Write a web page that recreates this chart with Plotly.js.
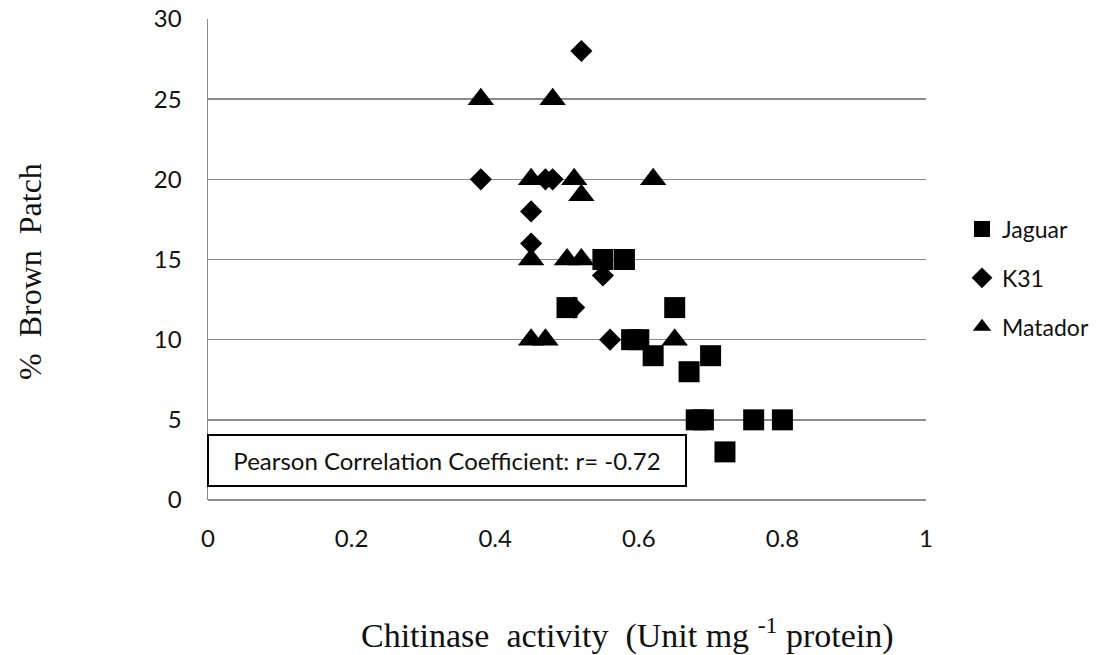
<!DOCTYPE html>
<html>
<head>
<meta charset="utf-8">
<script src="https://cdn.plot.ly/plotly-3.0.1.min.js"></script>
<style>
  html, body { margin: 0; padding: 0; background: #ffffff; }
  #chart { width: 1097px; height: 655px; }
</style>
</head>
<body>
<div id="chart"></div>
<script>
// Chitinase activity (x) against % brown patch (y) for three cultivars
const jaguarX = [0.50, 0.55, 0.58, 0.65, 0.59, 0.60, 0.62, 0.67, 0.70, 0.68, 0.69, 0.76, 0.80, 0.72];
const jaguarY = [12, 15, 15, 12, 10, 10, 9, 8, 9, 5, 5, 5, 5, 3];

const k31X = [0.52, 0.38, 0.47, 0.48, 0.45, 0.45, 0.55, 0.51, 0.56];
const k31Y = [28, 20, 20, 20, 18, 16, 14, 12, 10];

const matadorX = [0.38, 0.48, 0.45, 0.51, 0.62, 0.52, 0.45, 0.50, 0.52, 0.45, 0.47, 0.65];
const matadorY = [25, 25, 20, 20, 20, 19, 15, 15, 15, 10, 10, 10];

const xTicks = [0, 0.2, 0.4, 0.6, 0.8, 1];
const xTickText = ['0', '0.2', '0.4', '0.6', '0.8', '1'];
const yTicks = [0, 5, 10, 15, 20, 25, 30];

const correlationText = 'Pearson Correlation Coefficient: r= -0.72';
const xTitle = 'Chitinase&nbsp;&nbsp;activity&nbsp;&nbsp;(Unit mg <sup>-1</sup> protein)';
const yTitle = '%&nbsp;&nbsp;Brown&nbsp;&nbsp;Patch';

const sansFont = 'Lato, "Open Sans", sans-serif';
const serifFont = '"Liberation Serif", "DejaVu Serif", serif';

const traces = [
  {
    x: jaguarX, y: jaguarY, name: 'Jaguar', type: 'scatter', mode: 'markers',
    legendgroup: 'a',
    marker: { symbol: 'square', size: 21, color: '#000000' }
  },
  {
    x: k31X, y: k31Y, name: 'K31', type: 'scatter', mode: 'markers',
    legendgroup: 'b',
    marker: { symbol: 'diamond', size: 17, color: '#000000' }
  },
  {
    x: matadorX, y: matadorY, name: 'Matador', type: 'scatter', mode: 'markers',
    legendgroup: 'c',
    marker: { symbol: 'triangle-up', size: 23, color: '#000000' }
  }
];

const layout = {
  width: 1097,
  height: 655,
  paper_bgcolor: '#ffffff',
  plot_bgcolor: '#ffffff',
  margin: { l: 208, r: 171, t: 19, b: 155, autoexpand: false },
  showlegend: true,
  legend: {
    xref: 'container', yref: 'container',
    x: 962 / 1097, xanchor: 'left',
    y: (655 - 278) / 655, yanchor: 'middle',
    traceorder: 'grouped',
    tracegroupgap: 16,
    font: { family: sansFont, size: 23, color: '#111111' },
    bgcolor: 'rgba(0,0,0,0)'
  },
  xaxis: {
    range: [0, 1],
    tickvals: xTicks,
    ticktext: xTickText,
    showgrid: false,
    zeroline: false,
    showline: false,
    ticks: '',
    ticklabelstandoff: 22,
    tickfont: { family: sansFont, size: 24, color: '#111111' },
    fixedrange: true
  },
  yaxis: {
    range: [0, 30],
    tickvals: yTicks,
    showgrid: true,
    gridcolor: '#8a8a8a',
    gridwidth: 1.5,
    zeroline: true,
    zerolinecolor: '#8a8a8a',
    zerolinewidth: 1.5,
    showline: true,
    linecolor: '#8a8a8a',
    linewidth: 1.5,
    ticks: '',
    ticklabelstandoff: 20,
    tickfont: { family: sansFont, size: 24, color: '#111111' },
    fixedrange: true
  },
  annotations: [
    {
      xref: 'paper', yref: 'paper',
      x: 0.333, y: 0.082,
      xanchor: 'center', yanchor: 'middle',
      text: correlationText,
      showarrow: false,
      width: 476, height: 49,
      align: 'center', valign: 'middle',
      bgcolor: '#ffffff',
      bordercolor: '#000000',
      borderwidth: 2,
      borderpad: 0,
      font: { family: sansFont, size: 24, color: '#111111' }
    },
    {
      xref: 'paper', yref: 'paper',
      x: (627 - 208) / 718, y: (500 - 633) / 481,
      xanchor: 'center', yanchor: 'middle',
      text: xTitle,
      showarrow: false,
      font: { family: serifFont, size: 34, color: '#111111' }
    },
    {
      xref: 'paper', yref: 'paper',
      x: (30 - 208) / 718, y: (500 - 272) / 481,
      xanchor: 'center', yanchor: 'middle',
      text: yTitle,
      textangle: -90,
      showarrow: false,
      font: { family: serifFont, size: 32, color: '#111111' }
    }
  ]
};

Plotly.newPlot('chart', traces, layout, { displayModeBar: false, staticPlot: true });
</script>
</body>
</html>
